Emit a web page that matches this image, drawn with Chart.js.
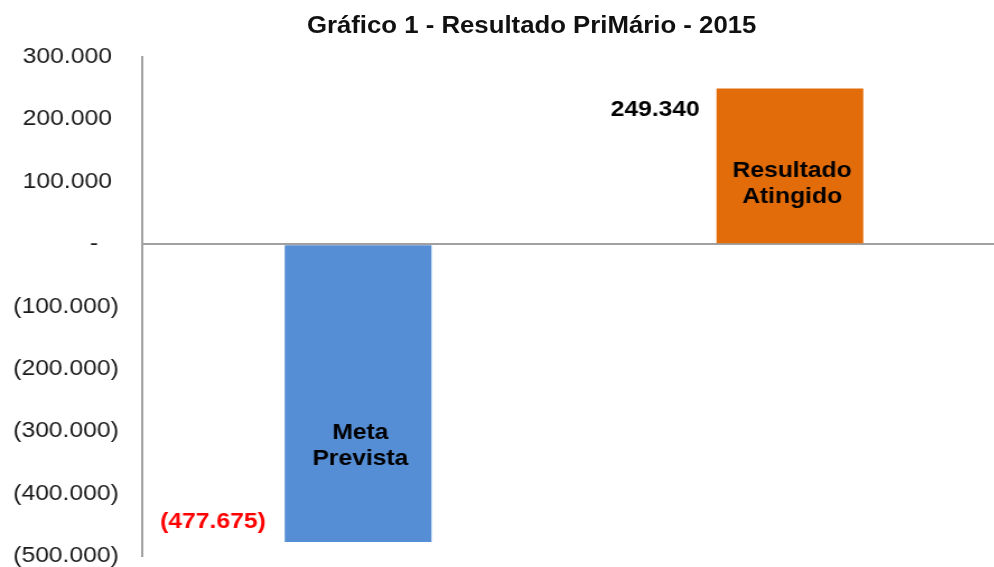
<!DOCTYPE html>
<html><head><meta charset="utf-8">
<script src="https://cdn.jsdelivr.net/npm/chart.js@4"></script>
<style>
html,body{margin:0;padding:0;background:#fff;overflow:hidden;width:994px;height:567px;}
#w{position:absolute;left:0;top:0;width:898px;height:567px;transform:scaleX(1.12);transform-origin:0 0;}
#c{display:block;}
#t{position:absolute;left:274px;top:12px;width:400px;text-align:center;font:bold 23px "Liberation Sans",Arial,sans-serif;color:#111;white-space:nowrap;}
</style></head><body>
<div id="w"><canvas id="c" width="898" height="567" style="width:898px;height:567px"></canvas>
<div id="t">Gráfico 1 - Resultado PriMário - 2015</div></div>
<script>
const categories = ["Meta Prevista", "Resultado Atingido"];
const barLabels = [["Meta", "Prevista"], ["Resultado", "Atingido"]];
const values = [-477675, 249340];
const valueLabels = ["(477.675)", "249.340"];
const colors = ["#558ED5", "#E36C0A"];
const tickValues = [300000, 200000, 100000, 0, -100000, -200000, -300000, -400000, -500000];

function fmt(v){
  if (v === 0) return "-   ";
  const s = Math.abs(v).toString().replace(/\B(?=(\d{3})+(?!\d))/g, ".");
  return v < 0 ? "(" + s + ")" : s + " ";
}

const labelPlugin = {
  id: "labels",
  afterDatasetsDraw(chart){
    const ctx = chart.ctx;
    const meta = chart.getDatasetMeta(0);
    const y = chart.scales.y;
    ctx.save();
    ctx.font = 'bold 22px "Liberation Sans", Arial, sans-serif';
    meta.data.forEach((bar, i) => {
      const left = bar.x - bar.width / 2;
      ctx.textAlign = "right";
      ctx.textBaseline = "middle";
      if (values[i] < 0) {
        ctx.fillStyle = "#FF0000";
        ctx.fillText(valueLabels[i], left - 17, bar.y - 20);
      } else {
        ctx.fillStyle = "#000";
        ctx.fillText(valueLabels[i], left - 15, bar.y + 21);
      }
      ctx.fillStyle = "#000";
      ctx.textAlign = "center";
      const lines = barLabels[i];
      const y0 = values[i] < 0 ? y.getPixelForValue(-303000) : y.getPixelForValue(117000);
      lines.forEach((ln, k) => ctx.fillText(ln, bar.x + 2, y0 + k * 26));
    });
    ctx.restore();
  }
};

new Chart(document.getElementById("c"), {
  type: "bar",
  data: {
    labels: categories,
    datasets: [{ data: values, backgroundColor: colors, barPercentage: 0.34, categoryPercentage: 1 }]
  },
  options: {
    responsive: false, maintainAspectRatio: false, animation: false, devicePixelRatio: 1,
    layout: { padding: { top: 57, bottom: 11, left: 0, right: 0 } },
    plugins: { legend: { display: false }, tooltip: { enabled: false }, title: { display: false } },
    scales: {
      x: { display: false },
      y: {
        min: -500000, max: 300000,
        afterBuildTicks(s){ s.ticks = tickValues.map(v => ({ value: v })); },
        afterFit(s){ s.width = 127; },
        ticks: {
          callback: v => fmt(v),
          font: { family: '"Liberation Sans", Arial, sans-serif', size: 22, lineHeight: 1 },
          color: "#1a1a1a",
          padding: 0
        },
        grid: {
          drawTicks: true,
          tickLength: 21,
          tickColor: "rgba(0,0,0,0)",
          color: c => (c.tick && c.tick.value === 0) ? "#A0A0A0" : "rgba(0,0,0,0)",
          lineWidth: 2
        },
        border: { display: true, color: "#A0A0A0", width: 2 }
      }
    }
  },
  plugins: [labelPlugin]
});
</script>
</body></html>
